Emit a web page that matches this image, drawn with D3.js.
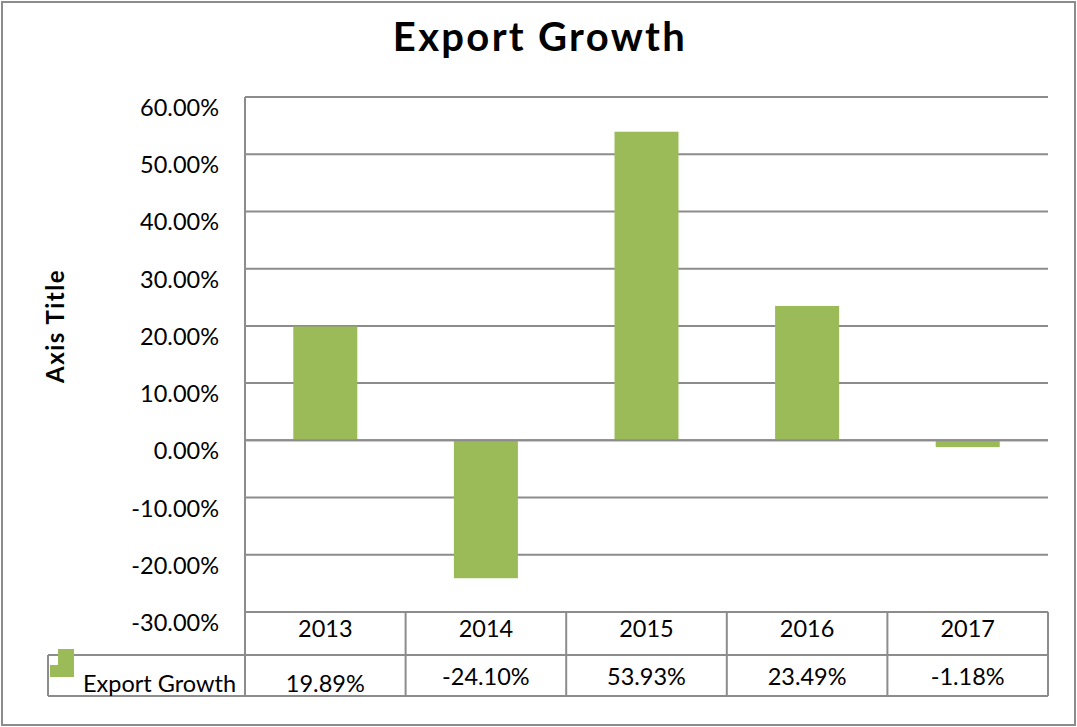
<!DOCTYPE html>
<html><head><meta charset="utf-8">
<script src="https://cdn.jsdelivr.net/npm/d3@7"></script>
<style>body{margin:0;background:#fff}svg{display:block}</style>
</head><body>
<svg id="c" width="1077" height="727"></svg>
<script>
const categories = ["2013","2014","2015","2016","2017"];
const values = [19.89, -24.10, 53.93, 23.49, -1.18];
const valueLabels = ["19.89%","-24.10%","53.93%","23.49%","-1.18%"];
const yTicks = [60,50,40,30,20,10,0,-10,-20,-30];
const seriesName = "Export Growth";
const title = "Export Growth";
const axisTitle = "Axis Title";

const svg = d3.select("#c");
const font = "Lato, 'Open Sans', sans-serif";
const grid = "#8c8c8c";
const green = "#9bbb59";
const L = 245, R = 1048, T = 97, B = 612, rowMid = 655, rowBot = 696, legL = 48;
const fs = 23.5;

svg.append("rect").attr("x",2).attr("y",2).attr("width",1073).attr("height",723)
  .attr("fill","#fff").attr("stroke",grid).attr("stroke-width",2);

const x = d3.scaleBand().domain(categories).range([L,R]).paddingInner(0).paddingOuter(0);
const y = d3.scaleLinear().domain([-30,60]).range([B,T]);

svg.append("text").attr("x",540).attr("y",51).attr("text-anchor","middle")
  .attr("font-family",font).attr("font-weight","bold").attr("font-size",40)
  .attr("letter-spacing","2.3px").text(title);

// gridlines
svg.append("g").selectAll("line").data(yTicks).join("line")
  .attr("x1",L).attr("x2",R).attr("y1",d=>y(d)).attr("y2",d=>y(d))
  .attr("stroke",grid).attr("stroke-width",2);

// y labels
svg.append("g").selectAll("text").data(yTicks).join("text")
  .attr("x",219).attr("y",d=>y(d)+19).attr("text-anchor","end")
  .attr("font-family",font).attr("font-size",fs).attr("fill","#000")
  .text(d=>d.toFixed(2)+"%");

svg.append("text").attr("transform","translate(64,326) rotate(-90)").attr("text-anchor","middle")
  .attr("font-family",font).attr("font-weight","bold").attr("font-size",24)
  .attr("letter-spacing","1.5px").text(axisTitle);

// bars
const bw = 64;
svg.append("g").selectAll("rect").data(values).join("rect")
  .attr("x",(d,i)=>x(categories[i])+x.bandwidth()/2-bw/2)
  .attr("width",bw)
  .attr("y",d=>y(Math.max(0,d)))
  .attr("height",d=>Math.abs(y(d)-y(0)))
  .attr("fill",green);

svg.append("line").attr("x1",L).attr("x2",R).attr("y1",y(0)).attr("y2",y(0)).attr("stroke",grid).attr("stroke-width",2);

// table
const tg = svg.append("g").attr("stroke",grid).attr("stroke-width",2);
tg.append("line").attr("x1",L).attr("x2",L).attr("y1",T).attr("y2",rowBot);
categories.forEach(c=>{
  tg.append("line").attr("x1",x(c)+x.bandwidth()).attr("x2",x(c)+x.bandwidth()).attr("y1",B).attr("y2",rowBot);
});
tg.append("line").attr("x1",legL).attr("x2",R).attr("y1",rowMid).attr("y2",rowMid);
tg.append("line").attr("x1",legL).attr("x2",R).attr("y1",rowBot).attr("y2",rowBot);
tg.append("line").attr("x1",legL).attr("x2",legL).attr("y1",rowMid).attr("y2",rowBot);

svg.append("g").selectAll("text").data(categories).join("text")
  .attr("x",d=>x(d)+x.bandwidth()/2).attr("y",637).attr("text-anchor","middle")
  .attr("font-family",font).attr("font-size",fs).text(d=>d);
svg.append("g").selectAll("text").data(valueLabels).join("text")
  .attr("x",(d,i)=>x(categories[i])+x.bandwidth()/2).attr("y",(d,i)=> i===0?692:685).attr("text-anchor","middle")
  .attr("font-family",font).attr("font-size",fs).text(d=>d);

// legend key
svg.append("rect").attr("x",50).attr("y",665).attr("width",24).attr("height",12).attr("fill",green);
svg.append("rect").attr("x",58).attr("y",649).attr("width",16).attr("height",17).attr("fill",green);
svg.append("text").attr("x",236).attr("y",692).attr("text-anchor","end")
  .attr("font-family",font).attr("font-size",fs).text(seriesName);
</script>
</body></html>
